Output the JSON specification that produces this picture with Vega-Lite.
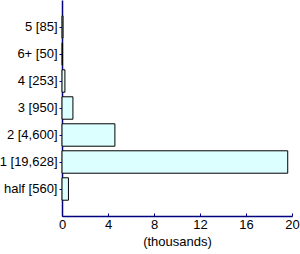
{
  "$schema": "https://vega.github.io/schema/vega-lite/v6.json",
  "width": 230,
  "height": 216,
  "autosize": "none",
  "padding": {"left": 62, "top": 0, "right": 8, "bottom": 38},
  "background": "white",
  "config": {
    "view": {"stroke": null},
    "font": "Liberation Sans",
    "axis": {"labelFont": "Liberation Sans", "titleFont": "Liberation Sans", "labelColor": "black", "titleColor": "black", "grid": false, "domainColor": "#000080", "tickColor": "#000080", "labelFontSize": 13, "titleFontSize": 13, "titleFontWeight": "normal"}
  },
  "data": {
    "values": [
      {"label": "5 [85]", "value": 0.085},
      {"label": "6+ [50]", "value": 0.05},
      {"label": "4 [253]", "value": 0.253},
      {"label": "3 [950]", "value": 0.95},
      {"label": "2 [4,600]", "value": 4.6},
      {"label": "1 [19,628]", "value": 19.628},
      {"label": "half [560]", "value": 0.56}
    ]
  },
  "mark": {"type": "bar", "fill": "#dcffff", "stroke": "black", "strokeWidth": 1},
  "encoding": {
    "y": {
      "field": "label",
      "type": "nominal",
      "sort": null,
      "scale": {"paddingInner": 0.17, "paddingOuter": 0.585},
      "axis": {"title": null, "tickSize": 3, "labelPadding": 2, "domainWidth": 1.5}
    },
    "x": {
      "field": "value",
      "type": "quantitative",
      "scale": {"domain": [0, 20], "nice": false},
      "axis": {"title": "(thousands)", "values": [0, 4, 8, 12, 16, 20], "tickSize": -3, "labelPadding": 5, "titlePadding": 4, "domainWidth": 1.5, "labelFlush": false}
    }
  }
}
